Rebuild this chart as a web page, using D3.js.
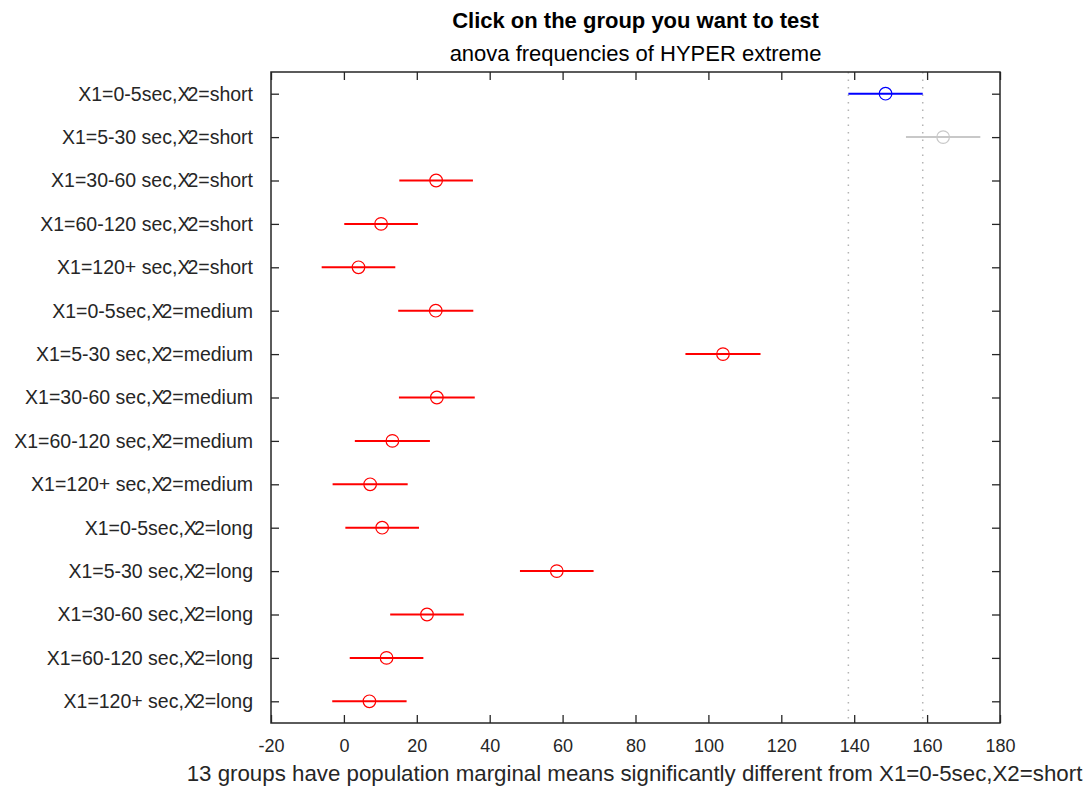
<!DOCTYPE html>
<html><head><meta charset="utf-8">
<script src="https://cdn.jsdelivr.net/npm/d3@7"></script>
<style>body{margin:0;background:#fff;} text{font-family:"Liberation Sans",Arial,sans-serif;}</style>
</head><body>
<svg id="chart" width="1086" height="787"></svg>
<script>
const groupsX1 = ["0-5sec","5-30 sec","30-60 sec","60-120 sec","120+ sec","0-5sec","5-30 sec","30-60 sec","60-120 sec","120+ sec","0-5sec","5-30 sec","30-60 sec","60-120 sec","120+ sec"];
const groupsX2 = ["short","short","short","short","short","medium","medium","medium","medium","medium","long","long","long","long","long"];
const means = [148.6, 164.4, 25.3, 10.2, 4.0, 25.2, 104.0, 25.5, 13.3, 7.2, 10.5, 58.4, 22.8, 11.7, 7.0];
const halfWidths = [10.2, 10.2, 10.1, 10.1, 10.1, 10.3, 10.3, 10.4, 10.3, 10.3, 10.1, 10.1, 10.1, 10.1, 10.2];
const status = ["selected","same","diff","diff","diff","diff","diff","diff","diff","diff","diff","diff","diff","diff","diff"];
const xTicks = [-20,0,20,40,60,80,100,120,140,160,180];
const titleText = "Click on the group you want to test";
const subtitleText = "anova frequencies of HYPER extreme";
const xLabelText = "13 groups have population marginal means significantly different from X1=0-5sec,X2=short";

(function(){
const svg = d3.select("#chart");
const pL = 271, pR = 1000, pT = 72, pB = 723;
const x = d3.scaleLinear().domain([-20,180]).range([pL,pR]);
const y = d3.scaleLinear().domain([0.5, means.length + 0.5]).range([pT,pB]);
const axisColor = "#262626";
const colorMap = {selected:"#0000ff", same:"#c8c8c8", diff:"#ff0000"};

const sel = status.indexOf("selected");
[means[sel]-halfWidths[sel], means[sel]+halfWidths[sel]].forEach(v=>{
  svg.append("line").attr("x1",x(v)).attr("x2",x(v)).attr("y1",pT).attr("y2",pB)
    .attr("stroke","#b4b4b4").attr("stroke-width",1.5).attr("stroke-dasharray","1.5,6");
});

const g = svg.append("g");
means.forEach((m,i)=>{
  const c = colorMap[status[i]];
  g.append("line").attr("x1",x(m-halfWidths[i])).attr("x2",x(m+halfWidths[i]))
    .attr("y1",y(i+1)).attr("y2",y(i+1)).attr("stroke",c).attr("stroke-width",2);
  g.append("circle").attr("cx",x(m)).attr("cy",y(i+1)).attr("r",6.3)
    .attr("fill","none").attr("stroke",c).attr("stroke-width",1.2);
});

const xAxisB = d3.axisBottom(x).tickValues(xTicks).tickSizeInner(-8).tickSizeOuter(0).tickPadding(16).tickFormat(d=>String(d));
const gx = svg.append("g").attr("transform",`translate(0,${pB})`).call(xAxisB);
gx.selectAll("text").attr("font-size",18).attr("fill",axisColor).attr("font-family","Liberation Sans, Arial, sans-serif");
const xAxisT = d3.axisTop(x).tickValues(xTicks).tickSizeInner(-8).tickSizeOuter(0).tickFormat("");
svg.append("g").attr("transform",`translate(0,${pT})`).call(xAxisT);
const yIdx = d3.range(1, means.length+1);
const yAxisL = d3.axisLeft(y).tickValues(yIdx).tickSizeInner(-8).tickSizeOuter(0).tickFormat("");
svg.append("g").attr("transform",`translate(${pL},0)`).call(yAxisL);
const yAxisR = d3.axisRight(y).tickValues(yIdx).tickSizeInner(-8).tickSizeOuter(0).tickFormat("");
svg.append("g").attr("transform",`translate(${pR},0)`).call(yAxisR);
svg.selectAll(".tick line").attr("stroke",axisColor).attr("stroke-width",1.3);
svg.selectAll(".domain").remove();
svg.append("rect").attr("x",pL).attr("y",pT).attr("width",pR-pL).attr("height",pB-pT)
  .attr("fill","none").attr("stroke",axisColor).attr("stroke-width",1.5);

yIdx.forEach(k=>{
  const t = svg.append("text").attr("x",253).attr("y",y(k)).attr("dy","0.35em")
    .attr("text-anchor","end").attr("font-size",19.5).attr("fill",axisColor);
  t.append("tspan").text("X1=" + groupsX1[k-1] + ",X");
  t.append("tspan").attr("dx",-3).text("2=" + groupsX2[k-1]);
});

svg.append("text").attr("x",(pL+pR)/2).attr("y",28).attr("text-anchor","middle")
  .attr("font-size",22).attr("font-weight","bold").attr("fill","#000").text(titleText);
svg.append("text").attr("x",(pL+pR)/2).attr("y",61).attr("text-anchor","middle")
  .attr("font-size",22).attr("fill","#000").text(subtitleText);
svg.append("text").attr("x",(pL+pR)/2 - 1).attr("y",781).attr("text-anchor","middle")
  .attr("font-size",22.3).attr("fill",axisColor).text(xLabelText);
})();
</script>
</body></html>
